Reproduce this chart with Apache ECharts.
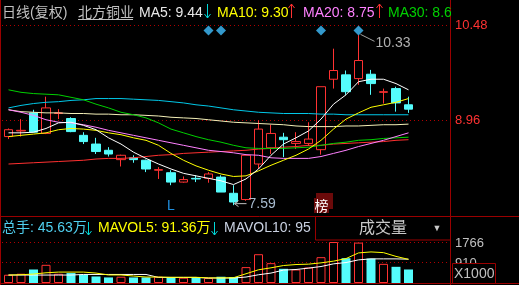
<!DOCTYPE html>
<html><head><meta charset="utf-8">
<script src="https://cdn.jsdelivr.net/npm/echarts@6/dist/echarts.min.js"></script>
<style>html,body{margin:0;padding:0;background:#000;overflow:hidden}#c{width:519px;height:285px}</style>
</head><body><div id="c"></div>
<script>
// ---- data ----
const days = ['1','2','3','4','5','6','7','8','9','10','11','12','13','14','15','16','17','18','19','20','21','22','23','24','25','26','27','28','29','30','31','32','33'];
const padDays = ['p1','p2','p3'];
const open  = [8.69,8.78,9.07,8.74,9.06,8.98,8.71,8.57,8.47,8.32,8.35,8.31,8.15,8.11,7.96,8.02,8.02,8.04,7.78,7.68,8.25,8.51,8.68,8.58,8.58,8.48,9.61,9.68,9.62,9.69,9.40,9.46,9.20];
const close = [8.80,8.79,8.76,9.15,9.07,8.77,8.61,8.45,8.41,8.39,8.32,8.17,8.16,7.96,8.00,8.01,8.09,7.80,7.64,8.39,8.81,8.74,8.64,8.61,8.65,9.49,9.75,9.41,9.91,9.54,9.41,9.23,9.13];
const low   = [8.65,8.69,8.76,8.73,8.97,8.76,8.57,8.41,8.37,8.21,8.27,8.12,8.01,7.91,7.95,7.96,7.95,7.80,7.59,7.66,8.17,8.41,8.36,8.49,8.54,8.40,9.46,9.36,9.52,9.36,9.22,9.09,9.07];
const high  = [8.82,8.97,9.12,9.33,9.13,9.00,8.76,8.67,8.52,8.40,8.39,8.32,8.20,8.15,8.05,8.07,8.12,8.07,7.91,8.39,8.95,8.88,8.75,8.76,8.92,9.49,10.10,9.75,10.33,9.76,9.46,9.49,9.33];
const ma5   = [8.75,8.75,8.76,8.82,8.91,8.92,8.87,8.80,8.67,8.57,8.44,8.34,8.25,8.17,8.10,8.06,8.02,7.98,7.92,8.01,8.17,8.39,8.57,8.67,8.78,8.97,9.21,9.36,9.57,9.61,9.61,9.54,9.44];
const ma10  = [8.69,8.71,8.73,8.75,8.80,8.82,8.81,8.79,8.75,8.72,8.67,8.63,8.55,8.42,8.31,8.22,8.15,8.09,8.05,8.06,8.14,8.23,8.31,8.39,8.49,8.63,8.81,8.97,9.07,9.16,9.20,9.24,9.30];
const ma20  = [9.12,9.08,9.03,8.96,8.92,8.91,8.88,8.84,8.79,8.75,8.71,8.67,8.63,8.59,8.55,8.51,8.47,8.45,8.43,8.40,8.39,8.35,8.34,8.34,8.34,8.37,8.42,8.47,8.53,8.58,8.63,8.69,8.75];
const ma30  = [9.44,9.40,9.38,9.37,9.36,9.32,9.28,9.21,9.15,9.08,9.04,8.99,8.91,8.81,8.75,8.69,8.64,8.60,8.55,8.51,8.50,8.50,8.50,8.51,8.52,8.55,8.58,8.60,8.63,8.64,8.66,8.67,8.68];
const ma60  = [9.15,9.19,9.22,9.24,9.25,9.27,9.28,9.30,9.30,9.30,9.29,9.28,9.27,9.25,9.23,9.20,9.18,9.15,9.12,9.10,9.08,9.07,9.06,9.06,9.06,9.05,9.05,9.04,9.04,9.04,9.04,9.04,9.04];
const ma120 = [9.12,9.09,9.08,9.07,9.07,9.06,9.06,9.05,9.05,9.04,9.04,9.03,9.02,9.00,8.99,8.98,8.96,8.94,8.92,8.91,8.90,8.89,8.88,8.86,8.85,8.85,8.85,8.86,8.86,8.87,8.88,8.88,8.89];
const ma250 = [8.25,8.26,8.27,8.28,8.29,8.30,8.31,8.33,8.34,8.34,8.35,8.37,8.39,8.40,8.42,8.43,8.44,8.45,8.46,8.47,8.49,8.50,8.52,8.53,8.55,8.55,8.57,8.58,8.59,8.60,8.61,8.63,8.64];
const volume  = [355,398,582,783,398,428,355,282,240,270,240,240,270,257,227,240,214,270,257,684,1240,855,611,582,667,1112,1766,1069,1740,1052,825,697,582];
const mavol5  = [342,355,385,440,470,470,470,428,346,346,300,257,257,245,245,245,220,220,227,398,569,654,753,795,812,868,941,1052,1296,1338,1308,1146,1018];
const mavol10 = [342,342,342,342,342,342,368,368,368,368,368,368,240,240,240,240,214,214,214,257,355,428,556,582,641,710,825,881,996,1039,1039,1039,1026];
const priceTicks = [10.48, 8.96];
const volTicks = [1766, 910];
const priceRange = [7.48, 10.48];
const signalIdx = [16, 17, 25, 28];
const signalLevel = 10.39;
const highIdx = 28, lowIdx = 18;
const lIdx = 13, bangIdx = 25;

// ---- styles ----
const UP = '#ff3232', DOWN = '#54fcfc', FRAME = '#9a0000';
const FONT = '"Liberation Sans", Arial, "Noto Sans CJK SC", sans-serif';
const cats = days.concat(padDays);

const chart = echarts.init(document.getElementById('c'), null, {renderer: 'canvas', width: 519, height: 285});

function lineSeries(data, color, xi, yi) {
  return {type: 'line', data: data, xAxisIndex: xi || 0, yAxisIndex: yi || 0, symbol: 'none', silent: true,
    lineStyle: {width: 1, color: color}, itemStyle: {color: color}, z: 3};
}

chart.setOption({
  backgroundColor: '#000',
  animation: false,
  grid: [
    {left: 2.25, right: 66.75, top: 25, height: 187},
    {left: 2.25, right: 66.75, top: 242, height: 41}
  ],
  xAxis: [
    {type: 'category', data: cats, gridIndex: 0, show: false, boundaryGap: true},
    {type: 'category', data: cats, gridIndex: 1, show: false, boundaryGap: true}
  ],
  yAxis: [
    {type: 'value', gridIndex: 0, min: priceRange[0], max: priceRange[1], show: false},
    {type: 'value', gridIndex: 1, min: 0, max: volTicks[0], show: false}
  ],
  series: [
    {
      type: 'candlestick', barWidth: 9, silent: true, z: 2,
      data: days.map((d, i) => [open[i], close[i], low[i], high[i]]),
      itemStyle: {color: '#000', color0: DOWN, borderColor: UP, borderColor0: DOWN, borderWidth: 1},
      markPoint: {
        symbol: 'diamond', symbolSize: 10, silent: true, animation: false,
        itemStyle: {color: '#3399cc'}, label: {show: false},
        data: signalIdx.map(i => ({coord: [cats[i], signalLevel]}))
      }
    },
    lineSeries(ma60, '#00c8e8'),
    lineSeries(ma120, '#f4f0b8'),
    lineSeries(ma250, '#ff3030'),
    lineSeries(ma30, '#00d000'),
    lineSeries(ma20, '#ff80ff'),
    lineSeries(ma10, '#ffff00'),
    lineSeries(ma5, '#ffffff'),
    {
      type: 'bar', xAxisIndex: 1, yAxisIndex: 1, barWidth: 9, silent: true, z: 2,
      data: volume.map((v, i) => ({
        value: v,
        itemStyle: close[i] >= open[i]
          ? {color: '#000', borderColor: UP, borderWidth: 1}
          : {color: DOWN, borderColor: DOWN, borderWidth: 0}
      }))
    },
    lineSeries(mavol10, '#ffffff', 1, 1),
    lineSeries(mavol5, '#ffff00', 1, 1)
  ]
});

// ---- decorations positioned through the axes ----
const yP = v => chart.convertToPixel({yAxisIndex: 0}, v);
const yV = v => chart.convertToPixel({yAxisIndex: 1}, v);
const xC = i => chart.convertToPixel({xAxisIndex: 0}, cats[i]);
const G = [];
function txt(t, x, y, color, size, align, z) {
  G.push({type: 'text', z: z || 100, silent: true,
    style: {text: t, x: x, y: y, fill: color, font: (size || 14) + 'px ' + FONT, align: align || 'left', verticalAlign: 'middle'}});
}
function ln(x1, y1, x2, y2, color, dash, z) {
  G.push({type: 'line', z: z || 100, silent: true, shape: {x1: x1, y1: y1, x2: x2, y2: y2},
    style: {stroke: color, lineWidth: 1, lineDash: dash || null}});
}
function rect(x, y, w, h, fill, stroke, z) {
  G.push({type: 'rect', z: z || 100, silent: true, shape: {x: x, y: y, width: w, height: h},
    style: {fill: fill, stroke: stroke || null, lineWidth: 1}});
}
// thin tall arrow like the terminal's font: dir = 1 down, -1 up
function arrow(cx, yTop, yBot, dir, color) {
  ln(cx, yTop, cx, yBot, color);
  const tip = dir > 0 ? yBot : yTop;
  const back = tip - dir * 4;
  G.push({type: 'polyline', z: 100, silent: true,
    shape: {points: [[cx - 3, back], [cx, tip], [cx + 3, back]]},
    style: {stroke: color, lineWidth: 1, fill: null}});
}

// dotted reference lines + right labels
priceTicks.forEach(v => {
  const y = Math.round(yP(v)) + 0.5;
  ln(2, y, 447, y, '#b00000', [1, 3], 1);
  txt(v.toFixed(2), 455, y, '#ff3232', 13);
});
volTicks.forEach(v => {
  const y = Math.round(yV(v)) + 0.5;
  ln(2, y, 447, y, '#b00000', [1, 3], 1);
  txt(String(v), 455, y + 1, '#c0c0c0', 13);
});

// frames
ln(0.5, 0, 0.5, 285, FRAME);
ln(450.5, 0, 450.5, 285, FRAME);
ln(0, 216.5, 519, 216.5, FRAME);
ln(0, 283.5, 519, 283.5, FRAME);

// header of price panel
txt('日线(复权)', 2, 13, '#c0c0c0');
txt('北方铜业', 78, 13, '#c0c0c0');
ln(78, 19.5, 133, 19.5, '#c0c0c0');
txt('MA5: 9.44', 139, 13, '#e8e8e8');
arrow(207.5, 4, 18, 1, '#00d8d8');
txt('MA10: 9.30', 217, 13, '#ffff00');
arrow(291.5, 4, 18, -1, '#ff3232');
txt('MA20: 8.75', 303, 13, '#ff80ff');
arrow(379.5, 4, 18, -1, '#ff3232');
txt('MA30: 8.6', 388, 13, '#00d000');
rect(451, 0, 68, 20, '#000', null, 101);

// volume header
txt('总手: 45.63万', 2, 228, '#50d0f0');
arrow(88.5, 222, 235, 1, '#00d8d8');
txt('MAVOL5: 91.36万', 98, 228, '#ffff00');
arrow(214.5, 222, 235, 1, '#00d8d8');
txt('MAVOL10: 95', 224, 228, '#c8d0e0');
rect(315.5, 216.5, 135, 23.5, '#000', FRAME, 101);
G.push({type: 'text', z: 102, silent: true, style: {text: '成交量', x: 383, y: 229, fill: '#c8c8c8', font: '16px ' + FONT, align: 'center', verticalAlign: 'middle'}});
G.push({type: 'text', z: 102, silent: true, style: {text: '▼', x: 437, y: 229, fill: '#c8c8c8', font: '9px ' + FONT, align: 'center', verticalAlign: 'middle'}});
rect(452.5, 263.5, 43, 20, '#000', FRAME, 101);
G.push({type: 'text', z: 102, silent: true, style: {text: 'X1000', x: 454, y: 274, fill: '#c0c0c0', font: '14px ' + FONT, align: 'left', verticalAlign: 'middle'}});

// high / low annotations
const hx = xC(highIdx), hy = yP(high[highIdx]);
ln(hx + 2, hy, hx + 16, hy + 7, '#a0a0a0');
txt(high[highIdx].toFixed(2), hx + 17, hy + 9, '#b0b0b0', 14);
const lx = xC(lowIdx), ly = yP(low[lowIdx]) - 1.5;
ln(lx + 1, ly, lx + 13, ly, '#c0c0c0');
G.push({type: 'polyline', z: 100, silent: true, shape: {points: [[lx + 5, ly - 3], [lx + 1, ly], [lx + 5, ly + 3]]}, style: {stroke: '#c0c0c0', lineWidth: 1, fill: null}});
txt(low[lowIdx].toFixed(2), lx + 15, ly, '#a8bcd0', 14);

// L and 榜 markers
txt('L', xC(lIdx), 206, '#2090e0', 14, 'center');
const bx = xC(bangIdx);
rect(bx - 5, 193, 17, 16, '#6b0a0a');
rect(bx - 7, 198, 15, 15, '#6b0a0a');
G.push({type: 'text', z: 102, silent: true, style: {text: '榜', x: bx + 0.5, y: 205.5, fill: '#ffffff', font: '14px "Noto Sans CJK SC", sans-serif', align: 'center', verticalAlign: 'middle'}});

chart.setOption({graphic: G});
</script></body></html>
